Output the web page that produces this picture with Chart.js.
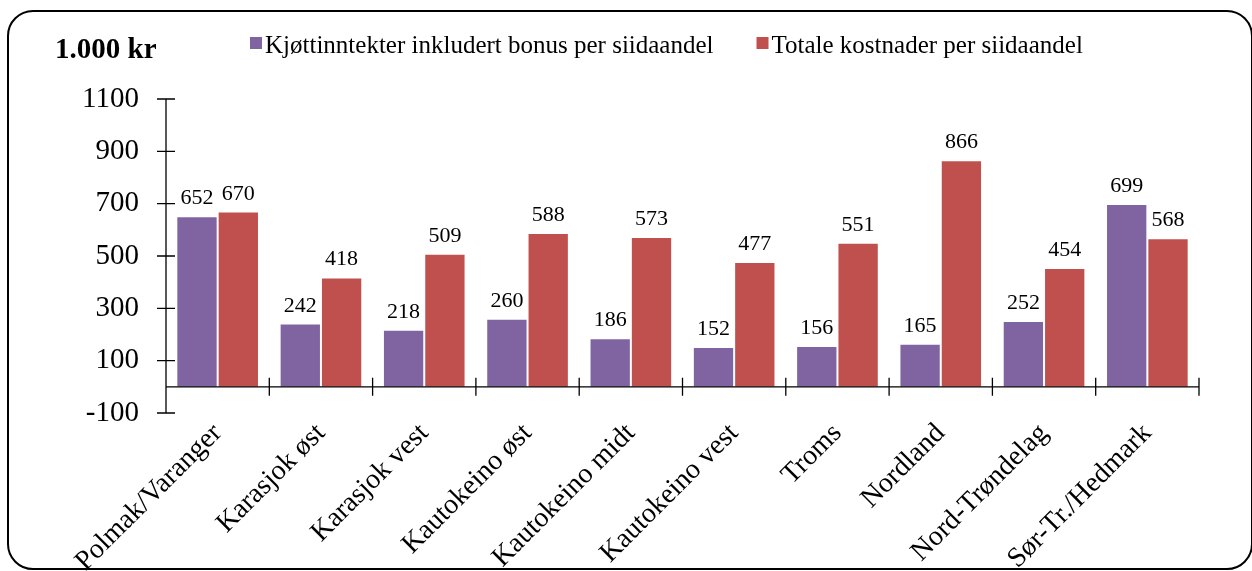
<!DOCTYPE html>
<html>
<head>
<meta charset="utf-8">
<script src="https://cdn.jsdelivr.net/npm/chart.js@4/dist/chart.umd.min.js"></script>
<style>
  body { margin: 0; background: #fff; }
  #wrap { position: relative; width: 1252px; height: 571px; overflow: hidden; }
  #frame {
    position: absolute; left: 7px; top: 10px; width: 1246px; height: 560px;
    box-sizing: border-box; border: 2px solid #000; border-radius: 26px;
  }
  canvas { position: absolute; left: 0; top: 0; }
</style>
</head>
<body>
<div id="wrap">
  <div id="frame"></div>
  <canvas id="chart" width="1252" height="571"></canvas>
</div>
<script>
const categories = ["Polmak/Varanger", "Karasjok øst", "Karasjok vest", "Kautokeino øst", "Kautokeino midt",
                    "Kautokeino vest", "Troms", "Nordland", "Nord-Trøndelag", "Sør-Tr./Hedmark"];
const meatIncome = [652, 242, 218, 260, 186, 152, 156, 165, 252, 699];
const totalCosts = [670, 418, 509, 588, 573, 477, 551, 866, 454, 568];
const seriesNames = ["Kjøttinntekter inkludert bonus per siidaandel", "Totale kostnader per siidaandel"];
const yTicks = [-100, 100, 300, 500, 700, 900, 1100];
const unitLabel = "1.000 kr";

const serif = "'Liberation Serif', 'Times New Roman', serif";
const purple = '#8064A2';
const red = '#C0504D';

// axes with crossing tick marks, value labels, legend and unit text
const decorations = {
    id: 'decorations',
    afterDatasetsDraw(chart) {
        const ctx = chart.ctx;
        const x = chart.scales.x;
        const y = chart.scales.y;
        const zero = y.getPixelForValue(0);
        ctx.save();
        ctx.strokeStyle = '#000';
        ctx.lineWidth = 1.3;
        ctx.beginPath();
        // y axis
        ctx.moveTo(x.left, y.getPixelForValue(yTicks[yTicks.length - 1]));
        ctx.lineTo(x.left, y.getPixelForValue(yTicks[0]));
        yTicks.forEach(v => {
            const py = y.getPixelForValue(v);
            ctx.moveTo(x.left - 9, py);
            ctx.lineTo(x.left + 9, py);
        });
        // category axis at zero
        ctx.moveTo(x.left, zero);
        ctx.lineTo(x.right, zero);
        const step = (x.right - x.left) / categories.length;
        for (let i = 1; i <= categories.length; i++) {
            const px = x.left + step * i;
            ctx.moveTo(px, zero - 9);
            ctx.lineTo(px, zero + 9);
        }
        ctx.stroke();

        // value labels
        ctx.fillStyle = '#000';
        ctx.font = '22px ' + serif;
        ctx.textAlign = 'center';
        ctx.textBaseline = 'alphabetic';
        chart.data.datasets.forEach((ds, i) => {
            chart.getDatasetMeta(i).data.forEach((bar, j) => {
                ctx.fillText(String(ds.data[j]), bar.x, bar.y - 12);
            });
        });

        // unit label
        ctx.textAlign = 'left';
        ctx.font = 'bold 29px ' + serif;
        ctx.fillText(unitLabel, 55, 58);

        // legend
        ctx.font = '25px ' + serif;
        let lx = 250;
        chart.data.datasets.forEach(ds => {
            ctx.fillStyle = ds.backgroundColor;
            ctx.fillRect(lx, 37, 12, 12);
            ctx.fillStyle = '#000';
            ctx.fillText(ds.label, lx + 15, 53);
            lx += 15 + ctx.measureText(ds.label).width + 43;
        });
        ctx.restore();
    }
};

new Chart(document.getElementById('chart').getContext('2d'), {
    type: 'bar',
    data: {
        labels: categories,
        datasets: [
            { label: seriesNames[0], data: meatIncome, backgroundColor: purple,
              borderColor: 'rgba(255,255,255,0.55)', borderWidth: 1 },
            { label: seriesNames[1], data: totalCosts, backgroundColor: red,
              borderColor: 'rgba(255,255,255,0.55)', borderWidth: 1 }
        ]
    },
    options: {
        responsive: false,
        animation: false,
        layout: { padding: { top: 99, right: 53, left: 0, bottom: 0 } },
        datasets: { bar: { categoryPercentage: 0.8, barPercentage: 1.0 } },
        plugins: { legend: { display: false }, tooltip: { enabled: false } },
        scales: {
            x: {
                grid: { display: false, drawTicks: false },
                border: { display: false },
                ticks: {
                    color: '#000', font: { family: serif, size: 28 },
                    minRotation: 45, maxRotation: 45, padding: 4, autoSkip: false
                },
                afterFit(scale) { scale.height = 158; }
            },
            y: {
                min: -100, max: 1100,
                grid: { display: false, drawTicks: false },
                border: { display: false },
                afterBuildTicks(scale) { scale.ticks = yTicks.map(v => ({ value: v })); },
                ticks: {
                    color: '#000', font: { family: serif, size: 29 }, padding: 27,
                    callback: v => String(v)
                },
                afterFit(scale) { scale.width = 166; }
            }
        }
    },
    plugins: [decorations]
});
</script>
</body>
</html>
